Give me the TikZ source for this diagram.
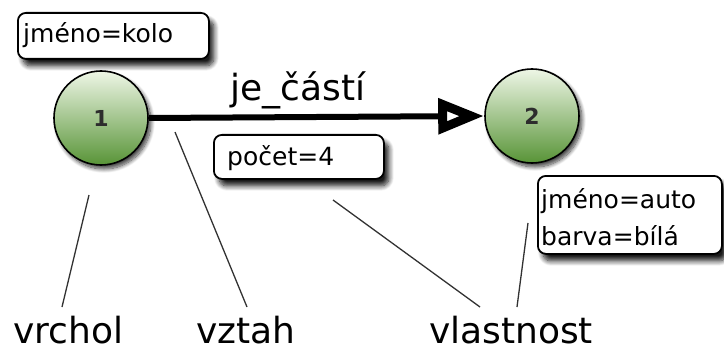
\documentclass[tikz,border=0pt]{standalone}
\usepackage{fontspec}
\setmainfont{DejaVu Sans}
\usetikzlibrary{arrows.meta,shadows.blur}

\tikzset{
  px/.style={x=1pt,y=-1pt},
  vertex/.style={circle, minimum size=94pt, inner sep=0pt, draw=black, line width=1.6pt,
    top color={rgb,255:red,238;green,246;blue,230},
    bottom color={rgb,255:red,88;green,148;blue,55},
    blur shadow={shadow xshift=3pt, shadow yshift=-4pt, shadow blur radius=4pt, shadow blur steps=10, shadow opacity=75},
    font=\fontsize{22}{22}\selectfont\bfseries, text={rgb,255:red,45;green,45;blue,45}},
  attrbox/.style={draw=black, line width=1.8pt, fill=white, rounded corners=8pt,
    blur shadow={shadow xshift=5pt, shadow yshift=-7pt, shadow blur radius=5pt, shadow blur steps=10, shadow opacity=90},
    inner sep=0pt, anchor=north west},
  attrtext/.style={font=\fontsize{25}{25}\selectfont, anchor=base west, inner sep=0pt},
  caption/.style={font=\fontsize{36}{36}\selectfont, inner sep=0pt, anchor=base},
  pointer/.style={line width=1.3pt, draw={rgb,255:red,50;green,50;blue,50}},
  relation/.style={line width=6pt, -{Triangle[open, length=46pt, width=34pt, line width=9pt 0]}}
}

\begin{document}
\begin{tikzpicture}[px]
  \useasboundingbox (0,0) rectangle (724,353);

  % attribute boxes
  \node[attrbox, minimum width=191pt, minimum height=46pt] (a1) at (17,12) {};
  \node[attrtext] (a1t) at (23,43) {jméno=kolo};

  \node[attrbox, minimum width=170pt, minimum height=44pt] (a2) at (213,134) {};
  \node[attrtext] (a2t) at (227,165) {počet=4};

  \node[attrbox, minimum width=184pt, minimum height=78pt] (a3) at (537,175) {};
  \node[attrtext] (a3t) at (541,208) {jméno=auto};
  \node[attrtext] (a3u) at (541,245) {barva=bílá};

  % vertices
  \node[vertex] (v1) at (101,118) {1};
  \node[vertex] (v2) at (532,116) {2};

  % relation edge
  \draw[relation] (v1.east) -- (v2.west);
  \node[caption] (rel) at (298,101) {je\_částí};

  % captions and pointer lines
  \node[caption] (c1) at (68,343) {vrchol};
  \node[caption] (c2) at (246,343) {vztah};
  \node[caption] (c3) at (511,343) {vlastnost};

  \coordinate (p1) at (89,195);
  \coordinate (p2) at (175,132);
  \coordinate (p3) at (333,200);
  \coordinate (p4) at (528,223);
  \coordinate (q1) at (62,307);
  \coordinate (q2) at (247,307);
  \coordinate (q3) at (480,307);
  \coordinate (q4) at (517,307);

  \draw[pointer] (p1) -- (q1);
  \draw[pointer] (p2) -- (q2);
  \draw[pointer] (p3) -- (q3);
  \draw[pointer] (p4) -- (q4);
\end{tikzpicture}
\end{document}
